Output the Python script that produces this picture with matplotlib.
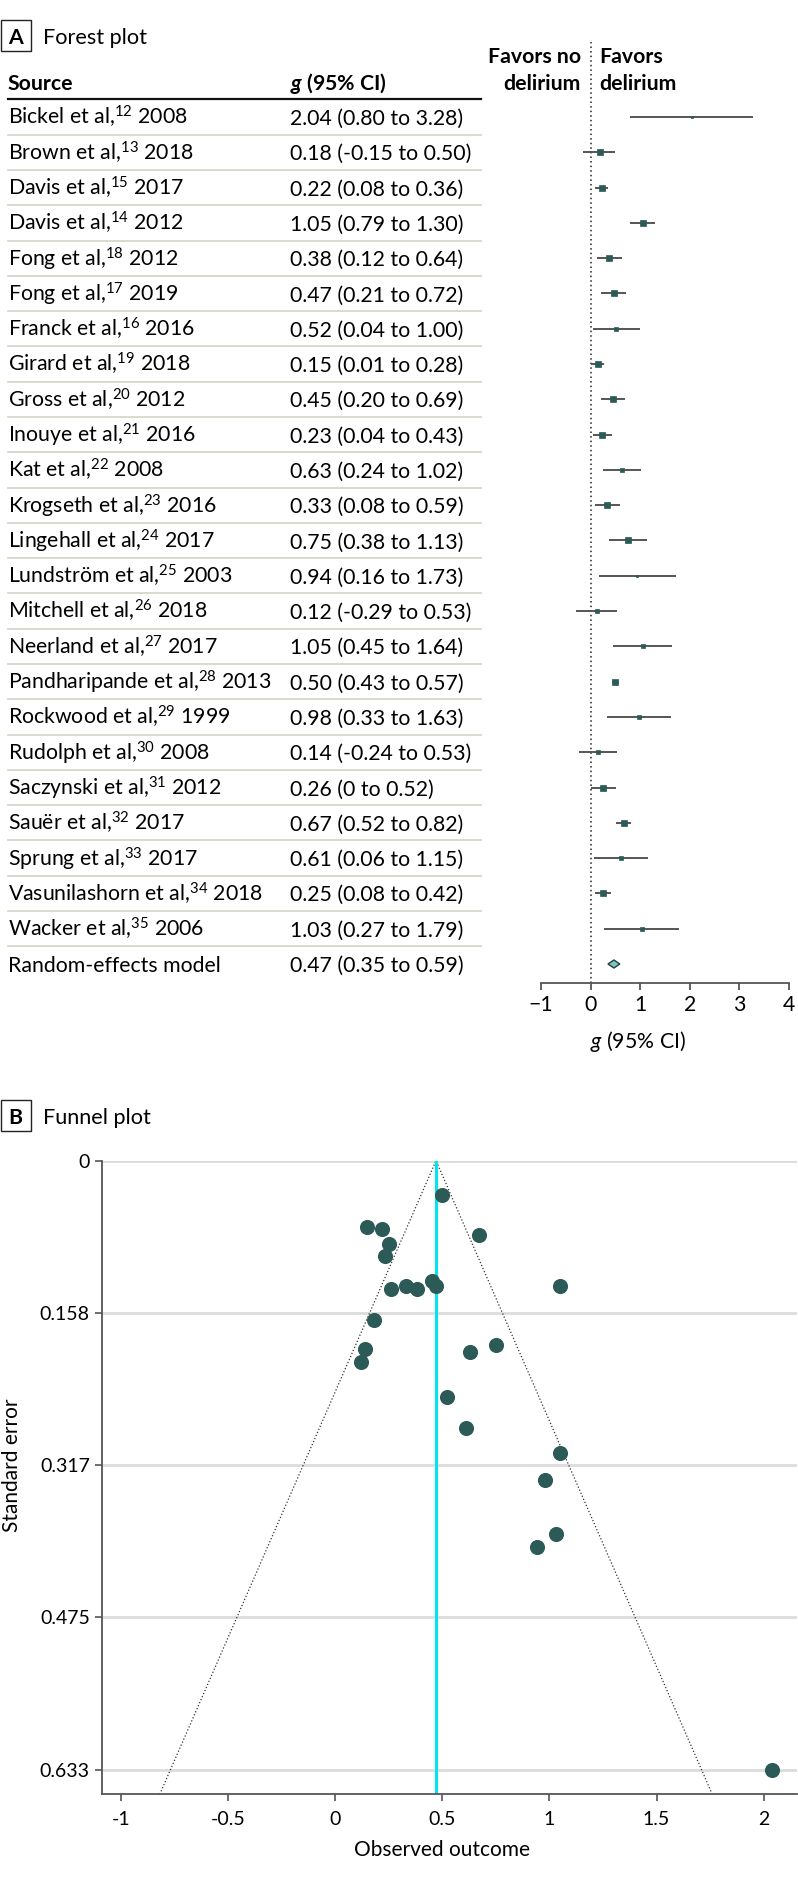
import matplotlib
matplotlib.use("Agg")
import matplotlib.pyplot as plt
from matplotlib import transforms
from matplotlib.lines import Line2D
from matplotlib.patches import Polygon, Rectangle

# --- data (forest table + funnel) ---
authors = ["Bickel et al,", "Brown et al,", "Davis et al,", "Davis et al,", "Fong et al,",
           "Fong et al,", "Franck et al,", "Girard et al,", "Gross et al,", "Inouye et al,",
           "Kat et al,", "Krogseth et al,", "Lingehall et al,", "Lundström et al,",
           "Mitchell et al,", "Neerland et al,", "Pandharipande et al,", "Rockwood et al,",
           "Rudolph et al,", "Saczynski et al,", "Sauër et al,", "Sprung et al,",
           "Vasunilashorn et al,", "Wacker et al,"]
refs = ["12", "13", "15", "14", "18", "17", "16", "19", "20", "21", "22", "23",
        "24", "25", "26", "27", "28", "29", "30", "31", "32", "33", "34", "35"]
years = ["2008", "2018", "2017", "2012", "2012", "2019", "2016", "2018", "2012", "2016",
         "2008", "2016", "2017", "2003", "2018", "2017", "2013", "1999", "2008", "2012",
         "2017", "2017", "2018", "2006"]
g = [2.04, 0.18, 0.22, 1.05, 0.38, 0.47, 0.52, 0.15, 0.45, 0.23, 0.63, 0.33,
     0.75, 0.94, 0.12, 1.05, 0.50, 0.98, 0.14, 0.26, 0.67, 0.61, 0.25, 1.03]
lo = [0.80, -0.15, 0.08, 0.79, 0.12, 0.21, 0.04, 0.01, 0.20, 0.04, 0.24, 0.08,
      0.38, 0.16, -0.29, 0.45, 0.43, 0.33, -0.24, 0.0, 0.52, 0.06, 0.08, 0.27]
hi = [3.28, 0.50, 0.36, 1.30, 0.64, 0.72, 1.00, 0.28, 0.69, 0.43, 1.02, 0.59,
      1.13, 1.73, 0.53, 1.64, 0.57, 1.63, 0.53, 0.52, 0.82, 1.15, 0.42, 1.79]
# square side (px)
box_px = [2.3, 5.3, 6.7, 5.7, 5.3, 5.7, 4.0, 6.7, 6.0, 6.0, 4.0, 6.0,
          5.3, 2.5, 4.7, 3.7, 6.7, 3.3, 4.7, 5.3, 6.7, 4.0, 6.3, 3.3]
se = [0.633, 0.166, 0.071, 0.130, 0.133, 0.130, 0.245, 0.069, 0.125, 0.099, 0.199, 0.130,
      0.191, 0.401, 0.209, 0.304, 0.036, 0.332, 0.196, 0.133, 0.077, 0.278, 0.087, 0.388]
pooled, pooled_lo, pooled_hi = 0.47, 0.35, 0.59

forest_ticks = [-1, 0, 1, 2, 3, 4]
funnel_xticks = [-1, -0.5, 0, 0.5, 1, 1.5, 2]
funnel_xlabels = ["-1", "-0.5", "0", "0.5", "1", "1.5", "2"]
funnel_yticks = [0, 0.1582, 0.3164, 0.4745, 0.6327]
funnel_ylabels = ["0", "0.158", "0.317", "0.475", "0.633"]

teal = "#2b5a57"
plt.rcParams["font.family"] = ["Lato", "DejaVu Sans"]
plt.rcParams["mathtext.fontset"] = "custom"
plt.rcParams["mathtext.rm"] = "Lato"
plt.rcParams["mathtext.it"] = "Lato:italic"
plt.rcParams["mathtext.bf"] = "Lato:bold"
plt.rcParams["mathtext.bfit"] = "Lato:italic:bold"

W, H = 798, 1880
fig = plt.figure(figsize=(W / 100, H / 100), dpi=100)

def fx(px):
    return px / W

def fy(py):
    return 1 - py / H

FS = 15.3
n = len(g)
step = (964 - 117) / n

# ---------- A: forest plot ----------
ax = fig.add_axes([fx(541), fy(983), (789 - 541) / W, (983 - 42) / H])
ax.set_xlim(-1, 4)
ax.set_ylim(n + (983 - 964) / step, -(117 - 42) / step)
ax.axvline(0, color="#222222", lw=1.1, ls=(0, (1, 2)))
rows = list(range(n))
ax.hlines(rows, lo, hi, color="#555555", lw=1.4)
for i in rows:
    ax.plot(g[i], i, "s", ms=box_px[i] * 0.72, color=teal, mec=teal, mew=0.5)
dh = 4 / step
ax.add_patch(Polygon([(pooled_lo, n), (pooled, n - dh), (pooled_hi, n), (pooled, n + dh)],
                     closed=True, fc="#7fc4bf", ec="#1f3f3d", lw=1))
for s in ["top", "right", "left"]:
    ax.spines[s].set_visible(False)
ax.spines["bottom"].set_color("#555555")
ax.spines["bottom"].set_linewidth(1.3)
ax.set_xticks(forest_ticks)
ax.tick_params(axis="x", length=5, width=1.3, color="#555555", labelsize=FS, pad=4)
ax.tick_params(axis="y", left=False, labelleft=False)
fig.text(fx(590), fy(1048), r"$\mathit{g}$ (95% CI)", fontsize=FS, va="baseline")

blend = transforms.blended_transform_factory(fig.transFigure, ax.transData)

def fmt(v):
    return "0" if v == 0 else f"{v:.2f}"

for i in rows:
    lab = f"{authors[i]}$^{{\\mathregular{{{refs[i]}}}}}$ {years[i]}"
    fig.text(fx(8), i + 0.225, lab, transform=blend, fontsize=FS, va="baseline")
    fig.text(fx(290), i + 0.225, f"{g[i]:.2f} ({fmt(lo[i])} to {fmt(hi[i])})",
             transform=blend, fontsize=FS, va="baseline")
    fig.add_artist(Line2D([fx(8), fx(481)], [i + 0.5, i + 0.5], transform=blend,
                          color="#d9d6ca", lw=1.3))
fig.text(fx(8), n + 0.225, "Random-effects model", transform=blend, fontsize=FS, va="baseline")
fig.text(fx(290), n + 0.225, f"{pooled:.2f} ({pooled_lo:.2f} to {pooled_hi:.2f})",
         transform=blend, fontsize=FS, va="baseline")

fig.text(fx(8), fy(90), "Source", fontsize=FS, fontweight="bold", va="baseline")
fig.text(fx(290), fy(90), r"$\mathbfit{g}$ (95% CI)", fontsize=FS, fontweight="bold", va="baseline")
fig.add_artist(Line2D([fx(8), fx(481)], [fy(99), fy(99)], color="#111111", lw=1.6))
fig.text(fx(581), fy(63), "Favors no", fontsize=FS, fontweight="bold", ha="right", va="baseline")
fig.text(fx(581), fy(90), "delirium", fontsize=FS, fontweight="bold", ha="right", va="baseline")
fig.text(fx(599), fy(63), "Favors", fontsize=FS, fontweight="bold", ha="left", va="baseline")
fig.text(fx(599), fy(90), "delirium", fontsize=FS, fontweight="bold", ha="left", va="baseline")

def panel_tag(letter, title, top):
    fig.add_artist(Rectangle((fx(0.5), fy(top + 31)), 30 / W, 31 / H, fill=False,
                             ec="#222222", lw=1, transform=fig.transFigure))
    fig.text(fx(15.5), fy(top + 24), letter, fontsize=FS, fontweight="bold",
             ha="center", va="baseline")
    fig.text(fx(43), fy(top + 24), title, fontsize=FS + 0.3, va="baseline")

panel_tag("A", "Forest plot", 20)
panel_tag("B", "Funnel plot", 1100)

# ---------- B: funnel plot ----------
ax2 = fig.add_axes([fx(102.3), fy(1794.3), (797 - 102.3) / W, (1794.3 - 1160.7) / H])
ybot = max(se) * 1.04
ax2.set_xlim(-1.0885, 2.156)
ax2.set_ylim(ybot, 0)
ax2.set_yticks(funnel_yticks)
ax2.set_yticklabels(funnel_ylabels, fontsize=14)
ax2.set_xticks(funnel_xticks)
ax2.set_xticklabels(funnel_xlabels, fontsize=14)
ax2.yaxis.grid(True, color="#dcdcdc", lw=2)
ax2.set_axisbelow(True)
ax2.plot([pooled - 1.96 * ybot, pooled, pooled + 1.96 * ybot], [ybot, 0, ybot],
         ls=":", color="#333333", lw=0.9, zorder=2)
ax2.axvline(pooled, color="#00e5ee", lw=2.2, zorder=2)
ax2.scatter(g, se, s=118, color=teal, zorder=3, linewidths=0)
for s in ["top", "right"]:
    ax2.spines[s].set_visible(False)
for s in ["left", "bottom"]:
    ax2.spines[s].set_color("#555555")
    ax2.spines[s].set_linewidth(1.3)
ax2.tick_params(axis="x", length=5, width=1.2, color="#555555", pad=7)
ax2.tick_params(axis="y", length=5, width=1.2, color="#555555", pad=4)
fig.text(fx(442), fy(1850), "Observed outcome", fontsize=15, ha="center", va="center")
fig.text(fx(12), fy(1465), "Standard error", fontsize=15, rotation=90,
         ha="center", va="center")

fig.savefig("out.png", dpi=100)
